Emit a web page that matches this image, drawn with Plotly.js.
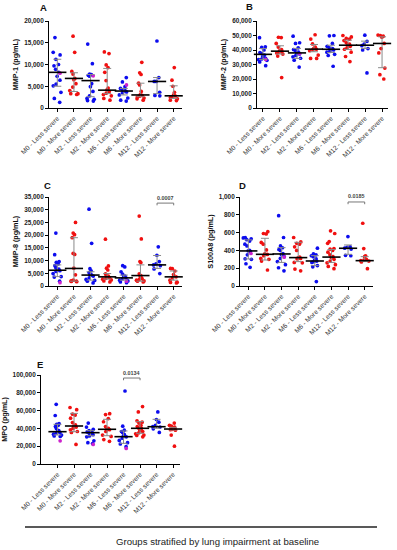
<!DOCTYPE html>
<html>
<head>
<meta charset="utf-8">
<script src="https://cdn.plot.ly/plotly-3.0.1.min.js"></script>
<style>html,body{margin:0;padding:0;background:#fff;}#chart{width:397px;height:550px;}</style>
</head>
<body>
<div id="chart"></div>
<script>
// ---------- DATA ----------
const categories = ["M0 - Less severe","M0 - More severe","M2 - Less severe","M2 - More severe",
                    "M6 - Less severe","M6 - More severe","M12 - Less severe","M12 - More severe"];

// MMP-1 (pg/mL)
const mmp1 = [
  [16200,12800,12200,11200,10000,9700,8900,8200,7300,6400,5500,5100,3600,2200,1300],
  [16500,12800,8400,7800,6800,6500,5600,4800,4000,3300,3100,3300],
  [14700,10200,7800,7700,7500,7300,5600,4900,3800,2800,2200,2000,1700,1600],
  [12900,12500,9900,9300,8200,6300,4600,4200,3800,3400,3100,2800,2200,1800],
  [7000,6000,4900,4500,4200,4000,3900,3700,3500,3000,2300,1800,1600],
  [10500,8100,7700,5700,5300,3800,3100,2900,2700,2500,2300,2100,1800],
  [15400,7000,6100,6100,3600,2900,2800],
  [9300,6400,5000,3600,3000,2800,2700,2400,2100,1800,1700]
];
const mmp1Highlight = [[8000],[],[7400],[],[5300],[],[],[]];
const mmp1Median = [8200,6800,6300,4100,3900,3000,6100,2800];
const mmp1Q1     = [5000,3800,2600,3300,3000,2600,3300,2200];
const mmp1Q3     = [11200,8100,7700,9100,4500,5700,7000,5100];

// MMP-2 (pg/mL)
const mmp2 = [
  [48500,42200,41800,40000,38200,37500,36500,35500,34200,33800,33300,32900,31800,29200],
  [48800,48600,44500,42000,40300,39500,39000,38500,38000,37200,35800,21000],
  [49500,45000,44500,41500,40300,39500,38500,38000,37300,36200,35300,34300,33000,28200],
  [50500,47500,44200,42000,41200,40600,40200,39500,36500,34200,34200],
  [50000,49800,44500,42500,41500,41000,40500,40000,39000,38500,37000,36200,28800],
  [50000,49000,48000,47500,46500,45000,44000,43300,42500,41500,40500,38500,35500,32000],
  [50200,46000,44000,43000,41000,40000,24200],
  [50300,50000,49500,48800,44500,41000,38000,27500,23000,20000]
];
const mmp2Highlight = [[33500],[],[37500],[],[],[],[],[]];
const mmp2Median = [37000,39200,38000,40600,40500,43300,43300,44500];
const mmp2Q1     = [33500,37200,34200,38800,38300,40400,41100,27800];
const mmp2Q3     = [41000,42900,41100,43800,43300,46800,46100,49100];

// MMP-8 (pg/mL)
const mmp8 = [
  [20800,12300,9600,9300,8700,8000,7200,6600,6200,6000,5700,4900,3700,3500,1900],
  [25000,20800,20200,19000,12800,12400,7000,4400,2300,2000,1900,1800,1700],
  [30200,16800,6800,6000,5300,4800,4400,4200,3900,3200,2600,2200,1900,1200],
  [18400,7900,7000,6300,4800,4200,3900,3600,3300,3000,2700,2400,2000,1600],
  [8000,7500,5600,4700,3900,3500,3200,2900,2300,2000,1600,1300],
  [27500,18500,9600,9200,4800,4300,4000,3600,2900,2600,2300,2000,1900,1600],
  [15400,12100,9600,8700,8300,8000,6700,4900],
  [6900,6800,5900,4500,3600,3200,2300,1500,1400,1200]
];
const mmp8Highlight = [[1300],[],[],[],[1900],[],[],[]];
const mmp8Median = [6200,6900,4300,3600,3200,4100,8300,3600];
const mmp8Q1     = [3700,1900,2300,2700,2300,1900,6900,2300];
const mmp8Q3     = [8300,19000,5600,4900,4300,8300,12000,5900];

// S100A8 (pg/mL)
const s100a8 = [
  [545,540,530,520,505,470,450,400,395,390,350,305,300,250,210],
  [610,590,585,490,470,405,360,355,340,310,300,280,180],
  [790,545,450,430,410,400,365,355,330,310,275,240,205,170],
  [545,495,480,470,440,400,325,315,310,305,265,260,190,170],
  [425,360,350,340,330,305,290,280,275,265,230,215,50],
  [620,590,500,480,420,415,400,380,350,330,320,300,280,260,240,220,195],
  [555,440,435,425,415,345,340],
  [705,420,340,330,300,290,285,280,270,195]
];
const s100a8Highlight = [[365],[],[325],[],[],[],[],[]];
const s100a8Median = [394,356,360,319,281,325,424,285];
const s100a8Q1     = [304,292,265,274,229,265,356,274];
const s100a8Q3     = [518,536,431,491,341,410,461,330];

// MPO (pg/mL)
const mpo = [
  [67000,54500,45500,44500,43500,42000,40000,37500,36500,35500,35000,33500,32500,31500,31000],
  [63500,61000,56000,55000,51500,46500,44000,42500,41500,40000,38500,36500,35500,22000],
  [46000,41500,39000,37500,36500,36000,35200,34500,33500,33000,31500,30500,26000,24000,23000],
  [56500,55500,51000,47500,42000,40000,39000,38500,36500,32500,31000,27500,25500],
  [82000,42500,38000,36500,35500,33000,31500,30500,29000,26500,24000,22500,19500],
  [64500,58500,48500,47000,46000,43500,42000,40500,40000,38000,36500,35000,34000,32500,32000,30500],
  [58500,50000,47000,43500,42000,41500,39500,35500],
  [46000,43500,42500,41500,40500,39500,39000,38500,38000,32500,20000]
];
const mpoHighlight = [[26000],[],[22000],[],[17500],[],[],[]];
const mpoMedian = [36300,42700,35200,39000,30700,40100,41900,39300];
const mpoQ1     = [32600,36300,31800,31800,23200,34500,40100,38200];
const mpoQ3     = [44600,56900,37500,50200,37100,47600,50200,41200];

// significance brackets: [group from, group to, bracket value, p label]
const sigMMP8   = [6, 7, 32600, "0.0007"];
const sigS100A8 = [6, 7, 944, "0.0185"];
const sigMPO    = [4, 5, 96600, "0.0134"];

const yTitles = ["MMP-1 (pg/mL)","MMP-2 (pg/mL)","MMP-8 (pg/mL)","S100A8 (pg/mL)","MPO (pg/mL)"];
const panelLetters = ["A","B","C","D","E"];
const footerText = "Groups stratified by lung impairment at baseline";

// ---------- LAYOUT / STYLE ----------
const W = 397, H = 550;
const px = v => v / W, py = v => 1 - v / H;
const FONT = "Liberation Sans, Arial, sans-serif";
const BLUE = "#0c0cee", RED = "#f01010", MAG = "#cc22cc";

const panels = [
  {vals: mmp1, hi: mmp1Highlight, med: mmp1Median, q1: mmp1Q1, q3: mmp1Q3, ymax: 20000, dtick: 5000,
   xd: [49, 182], yd: [108, 21], xr: [-0.5, 7.5], letter: [43, 8], sig: null},
  {vals: mmp2, hi: mmp2Highlight, med: mmp2Median, q1: mmp2Q1, q3: mmp2Q3, ymax: 60000, dtick: 10000,
   xd: [257, 388], yd: [108, 21], xr: [-0.35, 7.35], letter: [250, 7], sig: null},
  {vals: mmp8, hi: mmp8Highlight, med: mmp8Median, q1: mmp8Q1, q3: mmp8Q3, ymax: 35000, dtick: 5000,
   xd: [49, 182], yd: [286, 197], xr: [-0.5, 7.5], letter: [47, 185], sig: sigMMP8},
  {vals: s100a8, hi: s100a8Highlight, med: s100a8Median, q1: s100a8Q1, q3: s100a8Q3, ymax: 1000, dtick: 200,
   xd: [240, 373], yd: [286, 197], xr: [-0.5, 7.5], letter: [242, 185], sig: sigS100A8},
  {vals: mpo, hi: mpoHighlight, med: mpoMedian, q1: mpoQ1, q3: mpoQ3, ymax: 100000, dtick: 20000,
   xd: [41, 180], yd: [464, 375], xr: [-1, 7.42], letter: [40, 364], sig: sigMPO}
];

const traces = [];
const layout = {
  width: W, height: H, margin: {l: 0, r: 0, t: 0, b: 0},
  paper_bgcolor: "#fff", plot_bgcolor: "#fff", showlegend: false,
  boxmode: "overlay", font: {family: FONT},
  shapes: [], annotations: []
};

panels.forEach((p, i) => {
  const n = i === 0 ? "" : String(i + 1);
  const xa = "x" + n, ya = "y" + n;
  p.vals.forEach((g, gi) => {
    const col = gi % 2 === 0 ? BLUE : RED;
    traces.push({
      type: "box", xaxis: xa, yaxis: ya,
      x: g.map(() => categories[gi]), y: g,
      boxpoints: "all", jitter: 0.8, pointpos: 0, width: 0.8,
      line: {width: 0, color: "rgba(0,0,0,0)"}, fillcolor: "rgba(0,0,0,0)",
      marker: {color: col, size: 3.7}, hoverinfo: "y"
    });
    if (p.hi[gi].length) {
      traces.push({
        type: "box", xaxis: xa, yaxis: ya,
        x: p.hi[gi].map(() => categories[gi]), y: p.hi[gi],
        boxpoints: "all", jitter: 0, pointpos: 0.4, width: 0.8,
        line: {width: 0, color: "rgba(0,0,0,0)"}, fillcolor: "rgba(0,0,0,0)",
        marker: {color: MAG, size: 3.7}, hoverinfo: "y"
      });
    }
  });
  traces.push({
    type: "scatter", mode: "markers", xaxis: xa, yaxis: ya, cliponaxis: false,
    x: categories, y: p.med,
    marker: {symbol: "line-ew", size: 13, color: "#000", line: {width: 1.6, color: "#000"}},
    error_y: {type: "data", symmetric: false,
              array: p.q3.map((v, k) => v - p.med[k]),
              arrayminus: p.med.map((v, k) => v - p.q1[k]),
              color: "#8a8a8a", thickness: 1, width: 4},
    hoverinfo: "skip"
  });

  layout["xaxis" + n] = {
    domain: [px(p.xd[0]), px(p.xd[1])], anchor: ya, type: "category",
    categoryorder: "array", categoryarray: categories, range: p.xr,
    showline: true, linecolor: "#000", linewidth: 1, showgrid: false, zeroline: false,
    ticks: "outside", ticklen: 3, tickwidth: 1, tickcolor: "#000",
    tickangle: -45, tickfont: {family: FONT, size: 6.6, color: "#333"}
  };
  layout["yaxis" + n] = {
    domain: [py(p.yd[0]), py(p.yd[1])], anchor: xa, range: [0, p.ymax], dtick: p.dtick,
    tickformat: ",d", showline: true, linecolor: "#000", linewidth: 1,
    showgrid: false, zeroline: false,
    ticks: "outside", ticklen: 3, tickwidth: 1, tickcolor: "#000",
    tickfont: {family: FONT, size: 6.4, color: "#222", weight: "bold"},
    title: {text: yTitles[i], font: {family: FONT, size: 7.2, color: "#111", weight: "bold"}, standoff: 4}
  };

  layout.annotations.push({
    xref: "paper", yref: "paper", x: px(p.letter[0]), y: py(p.letter[1]),
    xanchor: "center", yanchor: "middle", showarrow: false, text: panelLetters[i],
    font: {family: FONT, size: 9.5, color: "#111", weight: "bold"}
  });

  if (p.sig) {
    const [a, b, yv, lab] = p.sig;
    const tk = p.ymax * 0.025;
    const sc = {xref: xa, yref: ya, type: "line", line: {color: "#777", width: 1}};
    layout.shapes.push(Object.assign({}, sc, {x0: a, x1: b, y0: yv, y1: yv}));
    layout.shapes.push(Object.assign({}, sc, {x0: a, x1: a, y0: yv, y1: yv - tk}));
    layout.shapes.push(Object.assign({}, sc, {x0: b, x1: b, y0: yv, y1: yv - tk}));
    layout.annotations.push({
      xref: xa, yref: ya, x: (a + b) / 2, y: yv, yanchor: "bottom", yshift: 0.5,
      showarrow: false, text: lab, font: {family: FONT, size: 5.4, color: "#444", weight: "bold"}
    });
  }
});

layout.shapes.push({xref: "paper", yref: "paper", type: "line",
  x0: px(25), x1: px(377), y0: py(527), y1: py(527), line: {color: "#222", width: 1.6}});
layout.annotations.push({xref: "paper", yref: "paper", x: px(217.5), y: py(541),
  xanchor: "center", yanchor: "middle", showarrow: false, text: footerText,
  font: {family: FONT, size: 9.6, color: "#222"}});

Plotly.newPlot("chart", traces, layout, {staticPlot: true, displayModeBar: false});
</script>
</body>
</html>
